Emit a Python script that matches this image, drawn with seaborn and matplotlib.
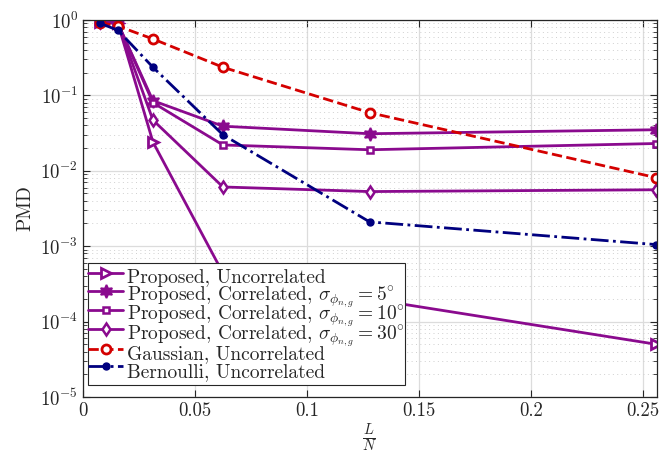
import numpy as np
import pandas as pd
import matplotlib
matplotlib.use("Agg")
import matplotlib.pyplot as plt
import matplotlib.ticker as mticker
import seaborn as sns

# L/N values
ratio = [0.0078, 0.0156, 0.03125, 0.0625, 0.128, 0.256]

# PMD per scheme
pmd_prop_uncorr = [0.95, 0.90, 0.024, 4.4e-4, 2.0e-4, 5.0e-5]
pmd_prop_5 = [0.95, 0.90, 0.085, 0.039, 0.031, 0.035]
pmd_prop_10 = [0.95, 0.90, 0.080, 0.022, 0.019, 0.023]
pmd_prop_30 = [0.95, 0.90, 0.047, 0.0061, 0.0053, 0.0056]
pmd_gauss = [0.92, 0.83, 0.56, 0.236, 0.059, 0.0081]
pmd_bern = [0.90, 0.73, 0.236, 0.030, 0.0021, 0.00105]

labels = [
    "Proposed, Uncorrelated",
    r"Proposed, Correlated, $\sigma_{\phi_{n,g}} = 5^{\circ}$",
    r"Proposed, Correlated, $\sigma_{\phi_{n,g}} = 10^{\circ}$",
    r"Proposed, Correlated, $\sigma_{\phi_{n,g}} = 30^{\circ}$",
    "Gaussian, Uncorrelated",
    "Bernoulli, Uncorrelated",
]

sns.set_style("ticks")
plt.rcParams["font.family"] = "serif"
plt.rcParams["font.serif"] = ["cmr10", "DejaVu Serif"]
plt.rcParams["mathtext.fontset"] = "cm"
plt.rcParams["axes.formatter.use_mathtext"] = True
plt.rcParams["axes.unicode_minus"] = False

purple = "#8a0a8e"
red = "#d40000"
navy = "#00007f"

fig = plt.figure(figsize=(6.72, 4.54), dpi=100)
ax = fig.add_axes([0.1235, 0.1256, 0.854, 0.8304])

styles = [
    (pmd_prop_uncorr, purple, "-", ">", 7, "white", 2.0),
    (pmd_prop_5, purple, "-", (6, 1, 0), 9.5, purple, 1.3),
    (pmd_prop_10, purple, "-", "s", 5, "white", 1.8),
    (pmd_prop_30, purple, "-", "d", 6.5, "white", 1.8),
    (pmd_gauss, red, "--", "o", 6.5, "white", 2.0),
    (pmd_bern, navy, "-.", "o", 5, navy, 1.0),
]

for (vals, col, ls, mk, ms, mfc, mew), lab in zip(styles, labels):
    df = pd.DataFrame({"x": ratio, "y": vals})
    sns.lineplot(data=df, x="x", y="y", ax=ax, color=col, linestyle=ls,
                 linewidth=2.0, marker=mk, markersize=ms,
                 markerfacecolor=mfc, markeredgecolor=col,
                 markeredgewidth=mew, label=lab, sort=False)

ax.set_yscale("log")
ax.set_xlim(0, 0.2563)
ax.set_ylim(1e-5, 1)
ax.set_xticks([0, 0.05, 0.1, 0.15, 0.2, 0.25])
ax.xaxis.set_major_formatter(mticker.FuncFormatter(lambda v, p: f"{v:g}"))
ax.yaxis.set_major_locator(mticker.LogLocator(base=10, numticks=10))
ax.yaxis.set_minor_locator(mticker.LogLocator(base=10, subs=np.arange(2, 10), numticks=20))
ax.yaxis.set_minor_formatter(mticker.NullFormatter())

ax.grid(True, which="major", color="#dcdcdc", linewidth=0.9, linestyle="-")
ax.grid(True, which="minor", axis="y", color="#cfcfcf", linewidth=0.7, linestyle=(0, (1, 3.5)))
ax.set_axisbelow(True)

ax.tick_params(which="both", direction="in", top=True, right=True,
               labelsize=13.5, color="#262626")
ax.tick_params(which="major", length=5)
ax.tick_params(which="minor", length=3)
for sp in ax.spines.values():
    sp.set_color("#262626")
    sp.set_linewidth(0.9)

ax.set_xlabel(r"$\frac{L}{N}$", fontsize=15, labelpad=1)
ax.set_ylabel("PMD", fontsize=14)

leg = ax.legend(loc="lower left", fontsize=14, frameon=True, fancybox=False,
                edgecolor="#262626", framealpha=1, borderpad=0.0,
                labelspacing=-0.57, handlelength=1.8, handleheight=1.9,
                handletextpad=0.2, borderaxespad=0,
                bbox_to_anchor=(0.009, 0.032))
leg.get_frame().set_linewidth(0.8)

fig.savefig("out.png", dpi=100)
